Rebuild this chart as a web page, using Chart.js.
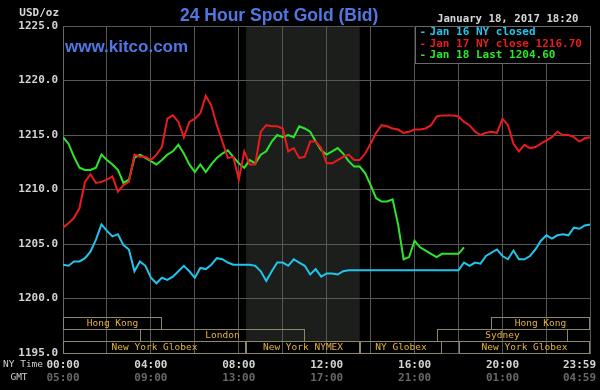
<!DOCTYPE html>
<html lang="en">
<head>
<meta charset="UTF-8">
<title>24 Hour Spot Gold (Bid)</title>
<script src="https://cdn.jsdelivr.net/npm/chart.js"></script>
<style>
  body { margin: 0; background: #000; }
  #box { width: 600px; height: 390px; }
</style>
</head>
<body>
<div id="box"><canvas id="gold" width="600" height="390"></canvas></div>
<script>
// 15 minute samples, minutes since 00:00 NY time, last one is 23:59
const sampleMinutes = [];
for (let m = 0; m < 1440; m += 15) sampleMinutes.push(m);
sampleMinutes.push(1439);

// Jan 16 (NY closed)
const jan16 = [
  1203.1, 1203.0, 1203.4, 1203.4,
  1203.7, 1204.3, 1205.4, 1206.8,
  1206.2, 1205.7, 1205.9, 1204.9,
  1204.5, 1202.5, 1203.4, 1203.0,
  1201.9, 1201.4, 1201.9, 1201.7,
  1202.0, 1202.5, 1203.0, 1202.5,
  1201.9, 1202.8, 1202.7, 1203.1,
  1203.7, 1203.6, 1203.3, 1203.1,
  1203.1, 1203.1, 1203.1, 1203.0,
  1202.5, 1201.6, 1202.5, 1203.3,
  1203.3, 1203.0, 1203.6, 1203.3,
  1203.0, 1202.2, 1202.7, 1202.0,
  1202.3, 1202.3, 1202.2, 1202.5,
  1202.6, 1202.6, 1202.6, 1202.6,
  1202.6, 1202.6, 1202.6, 1202.6,
  1202.6, 1202.6, 1202.6, 1202.6,
  1202.6, 1202.6, 1202.6, 1202.6,
  1202.6, 1202.6, 1202.6, 1202.6,
  1202.6, 1203.3, 1203.0, 1203.3,
  1203.2, 1203.9, 1204.2, 1204.5,
  1203.9, 1203.6, 1204.4, 1203.6,
  1203.6, 1203.9, 1204.5, 1205.3,
  1205.8, 1205.5, 1205.8, 1205.9,
  1205.8, 1206.5, 1206.4, 1206.7,
  1206.8
];

// Jan 17 (NY close 1216.70)
const jan17 = [
  1206.5, 1206.9, 1207.4, 1208.3,
  1210.7, 1211.4, 1210.6, 1210.7,
  1210.9, 1211.2, 1209.8, 1210.4,
  1210.7, 1213.2, 1213.0, 1213.0,
  1212.7, 1213.2, 1213.9, 1216.5,
  1216.8, 1216.2, 1214.8, 1216.2,
  1216.5, 1217.0, 1218.6, 1217.7,
  1215.9, 1214.4, 1212.9, 1213.0,
  1210.9, 1213.5, 1212.3, 1212.3,
  1215.3, 1215.9, 1215.8, 1215.8,
  1215.6, 1213.5, 1213.8, 1212.9,
  1213.0, 1214.4, 1214.4, 1213.8,
  1212.4, 1212.4, 1212.7, 1213.0,
  1213.2, 1212.7, 1212.7, 1213.3,
  1214.2, 1215.2, 1215.9, 1215.8,
  1215.6, 1215.5, 1215.2, 1215.3,
  1215.5, 1215.5, 1215.6, 1215.9,
  1216.7, 1216.8, 1216.8, 1216.8,
  1216.7, 1216.2, 1215.9, 1215.3,
  1215.0, 1215.2, 1215.3, 1215.2,
  1216.5, 1215.9, 1214.2, 1213.5,
  1214.1, 1213.8, 1213.9, 1214.2,
  1214.5, 1214.8, 1215.3, 1215.0,
  1215.0, 1214.8, 1214.4, 1214.7,
  1214.8
];

// Jan 18 (last 1204.60), runs to 18:15
const jan18 = [
  1214.8, 1214.2, 1213.0, 1212.0,
  1211.8, 1211.8, 1212.0, 1213.2,
  1212.7, 1212.3, 1211.8, 1210.6,
  1210.9, 1212.9, 1213.2, 1212.9,
  1212.6, 1212.3, 1212.7, 1213.2,
  1213.5, 1214.1, 1213.3, 1212.3,
  1211.6, 1212.3, 1211.6, 1212.3,
  1212.9, 1213.3, 1213.6, 1213.0,
  1212.4, 1212.0, 1212.7, 1212.4,
  1213.2, 1213.5, 1214.4, 1215.0,
  1214.8, 1215.0, 1214.8, 1215.8,
  1215.6, 1215.3, 1214.4, 1213.6,
  1213.2, 1213.5, 1213.8, 1213.3,
  1212.6, 1212.1, 1212.1, 1211.5,
  1210.4, 1209.2, 1208.9, 1208.9,
  1209.1, 1206.8, 1203.6, 1203.8,
  1205.3, 1204.7, 1204.4, 1204.1,
  1203.8, 1204.1, 1204.1, 1204.1,
  1204.1, 1204.7
];

const seriesLabels = ['Jan 16 NY closed', 'Jan 17 NY close 1216.70', 'Jan 18 Last 1204.60'];
const seriesColors = ['#22c4ec', '#e81c1c', '#2ce62a'];

const gridMinutes = [0, 120, 240, 360, 480, 600, 720, 840, 960, 1080, 1200, 1320, 1439];
const labelMinutes = [0, 240, 480, 720, 960, 1200, 1439];
const nyLabels = ['00:00', '04:00', '08:00', '12:00', '16:00', '20:00', '23:59'];
const gmtLabels = ['05:00', '09:00', '13:00', '17:00', '21:00', '01:00', '04:59'];

// trading sessions: [name, row, start, end] in minutes
const sessions = [
  ['Hong Kong', 0, 0, 270],
  ['Hong Kong', 0, 1170, 1439],
  ['London', 1, 210, 660],
  ['Sydney', 1, 1020, 1380],
  ['New York Globex', 2, 0, 500],
  ['New York NYMEX', 2, 500, 810],
  ['NY Globex', 2, 810, 1035],
  ['New York Globex', 2, 1080, 1439]
];
const nymexOpen = 500, nymexClose = 810;

const MONO = '"DejaVu Sans Mono", monospace';
const ROW_H = 12;

function pts(values) {
  return values.map((v, i) => ({ x: sampleMinutes[i], y: v }));
}

const decor = {
  id: 'decor',
  beforeDraw(chart) {
    const { ctx, chartArea: a, scales: { x } } = chart;
    ctx.save();
    ctx.fillStyle = '#000';
    ctx.fillRect(0, 0, chart.width, chart.height);
    const x0 = x.getPixelForValue(nymexOpen), x1 = x.getPixelForValue(nymexClose);
    ctx.fillStyle = '#1c1e1c';
    ctx.fillRect(x0, a.top, x1 - x0, a.bottom - ROW_H - a.top);
    ctx.restore();
  },
  afterDraw(chart) {
    const { ctx, chartArea: a, scales: { x } } = chart;
    ctx.save();

    // session boxes
    ctx.lineWidth = 1;
    ctx.font = '9.5px ' + MONO;
    ctx.textAlign = 'center';
    ctx.textBaseline = 'middle';
    sessions.forEach(([name, row, s, e]) => {
      const top = a.bottom - (3 - row) * ROW_H;
      const l = Math.round(x.getPixelForValue(s)) + 0.5;
      const r = Math.round(x.getPixelForValue(e)) - 0.5;
      ctx.strokeStyle = '#8e8868';
      ctx.strokeRect(l, top + 0.5, r - l, ROW_H);
      ctx.fillStyle = '#e8b43a';
      ctx.fillText(name, (l + r) / 2, top + ROW_H / 2 + 1);
    });

    // legend box
    const lx = x.getPixelForValue(960);
    ctx.fillStyle = '#000';
    ctx.fillRect(lx, a.top, a.right - lx, 37);
    ctx.strokeStyle = '#6a6a6a';
    ctx.strokeRect(Math.round(lx) + 0.5, a.top + 0.5, Math.round(a.right - lx), 37);
    ctx.font = 'bold 11px ' + MONO;
    ctx.textAlign = 'left';
    seriesLabels.forEach((t, i) => {
      const y = a.top + 6.5 + i * 11.5;
      ctx.fillStyle = seriesColors[i];
      ctx.fillText('-', lx + 5, y);
      ctx.fillText(t, lx + 15, y);
    });

    // header
    ctx.fillStyle = '#d8d8d8';
    ctx.textAlign = 'right';
    ctx.fillText('USD/oz', 59, 13);
    ctx.textAlign = 'left';
    ctx.font = 'bold 10.7px ' + MONO;
    ctx.fillText('January 18, 2017 18:20', 437, 19);
    ctx.fillStyle = '#5078e4';
    ctx.textBaseline = 'alphabetic';
    ctx.font = 'bold 17.5px "Liberation Sans", Arial, sans-serif';
    ctx.fillText('24 Hour Spot Gold (Bid)', 180, 20.5);
    ctx.font = 'bold 17px "Liberation Sans", Arial, sans-serif';
    ctx.fillText('www.kitco.com', 65, 52);

    // time axis
    ctx.textBaseline = 'middle';
    ctx.font = '9.5px ' + MONO;
    ctx.fillStyle = '#d0d0d0';
    ctx.fillText('NY Time', 3, a.bottom + 12);
    ctx.textAlign = 'center';
    ctx.fillText('GMT', 19, a.bottom + 25);
    ctx.font = 'bold 11px ' + MONO;
    labelMinutes.forEach((m, i) => {
      let px = x.getPixelForValue(m);
      if (i === labelMinutes.length - 1) { ctx.textAlign = 'right'; px = 596; }
      ctx.fillStyle = '#d4d4d4';
      ctx.fillText(nyLabels[i], px, a.bottom + 12);
      ctx.fillStyle = '#686868';
      ctx.fillText(gmtLabels[i], px, a.bottom + 25);
    });
    ctx.restore();
  }
};

new Chart(document.getElementById('gold'), {
  type: 'line',
  data: {
    datasets: [jan16, jan17, jan18].map((vals, i) => ({
      label: seriesLabels[i],
      data: pts(vals),
      borderColor: seriesColors[i],
      borderWidth: 2,
      pointRadius: 0,
      tension: 0,
      fill: false
    }))
  },
  options: {
    responsive: false,
    animation: false,
    events: [],
    layout: { padding: { top: 26, right: 10, left: 0, bottom: 0 } },
    plugins: { legend: { display: false }, tooltip: { enabled: false } },
    scales: {
      x: {
        type: 'linear', min: 0, max: 1439,
        afterBuildTicks(s) { s.ticks = gridMinutes.map(v => ({ value: v })); },
        afterFit(s) { s.height = 37; },
        ticks: { display: false },
        grid: { color: '#575757', drawTicks: false },
        border: { color: '#666' }
      },
      y: {
        min: 1195, max: 1225,
        afterFit(s) { s.width = 63; },
        ticks: {
          stepSize: 5, padding: 5, color: '#d4d4d4',
          font: { family: MONO, size: 11, weight: 'bold' },
          callback: v => v.toFixed(1)
        },
        grid: { color: '#575757', drawTicks: false },
        border: { color: '#666' }
      }
    }
  },
  plugins: [decor]
});
</script>
</body>
</html>
